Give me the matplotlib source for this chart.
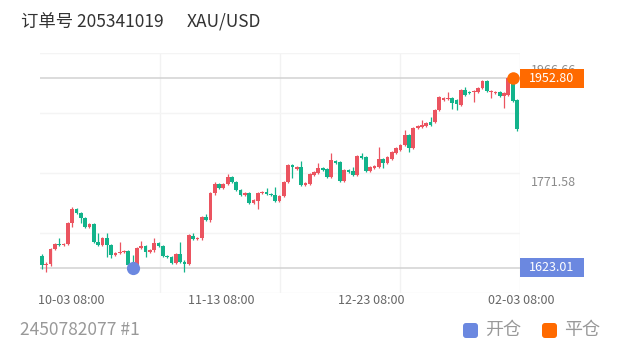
import numpy as np
import matplotlib
matplotlib.use('Agg')
import matplotlib.pyplot as plt
from matplotlib.patches import Rectangle, FancyBboxPatch
from matplotlib.transforms import blended_transform_factory

plt.rcParams['font.family'] = ['Noto Sans CJK SC', 'DejaVu Sans']

order_title = '订单号 205341019'
symbol = 'XAU/USD'
account = '2450782077 #1'
legend_names = ['开仓', '平仓']

# K线数据 (开, 收, 高, 低)
opens = [1643.8, 1628.2, 1630.0, 1656.0, 1664.7, 1662.9, 1664.7, 1701.1, 1725.4, 1718.5,
         1709.8, 1694.2, 1699.4, 1668.1, 1662.9, 1675.1, 1662.9, 1645.6, 1649.0, 1650.8,
         1652.5, 1628.2, 1626.5, 1657.7, 1661.2, 1650.8, 1654.3, 1666.4, 1661.2, 1643.8,
         1642.1, 1631.7, 1647.3, 1633.4, 1630.0, 1678.6, 1673.3, 1675.1, 1711.5, 1706.3,
         1753.2, 1768.8, 1761.9, 1768.8, 1781.0, 1772.3, 1758.4, 1749.7, 1753.2, 1735.8,
         1739.3, 1753.2, 1754.9, 1751.5, 1749.7, 1739.3, 1748.0, 1772.3, 1801.8, 1794.9,
         1798.3, 1767.1, 1768.8, 1784.4, 1787.9, 1796.6, 1794.9, 1781.0, 1808.7, 1807.0,
         1774.0, 1793.1, 1791.4, 1784.4, 1817.4, 1815.7, 1791.4, 1796.6, 1798.3, 1812.2,
         1805.3, 1812.2, 1822.6, 1827.8, 1836.5, 1853.9, 1831.3, 1866.0, 1867.8, 1869.5,
         1876.4, 1876.4, 1897.3, 1914.6, 1916.3, 1918.1, 1914.6, 1905.9, 1932.0, 1928.5,
         1928.5, 1928.5, 1935.4, 1947.6, 1928.5, 1926.8, 1928.5, 1921.6, 1923.3, 1944.1,
         1914.6]
closes = [1628.2, 1630.0, 1656.0, 1664.7, 1662.9, 1664.7, 1701.1, 1725.4, 1718.5, 1709.8,
          1694.2, 1699.4, 1668.1, 1662.9, 1675.1, 1662.9, 1645.6, 1649.0, 1650.8, 1652.5,
          1628.2, 1623.01, 1657.7, 1661.2, 1650.8, 1654.3, 1666.4, 1661.2, 1643.8, 1642.1,
          1631.7, 1647.3, 1633.4, 1630.0, 1680.3, 1673.3, 1675.1, 1711.5, 1706.3, 1753.2,
          1768.8, 1761.9, 1768.8, 1781.0, 1772.3, 1758.4, 1749.7, 1753.2, 1735.8, 1741.0,
          1753.2, 1754.9, 1751.5, 1749.7, 1739.3, 1748.0, 1772.3, 1801.8, 1798.3, 1798.3,
          1767.1, 1770.6, 1786.2, 1789.6, 1796.6, 1793.1, 1781.0, 1810.5, 1805.3, 1774.0,
          1793.1, 1789.6, 1784.4, 1817.4, 1813.9, 1791.4, 1798.3, 1800.1, 1812.2, 1805.3,
          1815.7, 1824.4, 1831.3, 1836.5, 1853.9, 1831.3, 1866.0, 1869.5, 1871.2, 1874.7,
          1871.2, 1897.3, 1919.8, 1918.1, 1918.1, 1909.4, 1907.7, 1932.0, 1923.3, 1926.8,
          1930.2, 1935.4, 1947.6, 1930.2, 1930.2, 1928.5, 1921.6, 1926.8, 1952.8, 1912.9,
          1864.3]
highs = [1647.3, 1633.4, 1657.7, 1666.4, 1675.1, 1666.4, 1702.9, 1728.9, 1727.2, 1720.2,
         1711.5, 1701.1, 1700.5, 1683.8, 1676.8, 1683.8, 1664.7, 1650.8, 1668.1, 1654.3,
         1654.3, 1645.6, 1659.5, 1669.9, 1662.9, 1656.0, 1675.1, 1668.1, 1662.9, 1645.6,
         1643.8, 1649.0, 1668.1, 1636.9, 1682.0, 1683.8, 1676.8, 1713.3, 1716.7, 1754.9,
         1772.3, 1770.6, 1770.6, 1786.2, 1782.7, 1774.0, 1760.1, 1754.9, 1754.9, 1742.8,
         1754.9, 1756.7, 1761.9, 1753.2, 1763.6, 1749.7, 1774.0, 1803.5, 1803.5, 1800.1,
         1808.7, 1772.3, 1787.9, 1791.4, 1805.3, 1798.3, 1796.6, 1822.6, 1810.5, 1808.7,
         1794.9, 1794.9, 1798.3, 1819.2, 1822.6, 1817.4, 1800.1, 1801.8, 1833.0, 1813.9,
         1817.4, 1826.1, 1833.0, 1838.2, 1862.5, 1855.6, 1867.8, 1871.2, 1879.9, 1876.4,
         1885.1, 1899.0, 1921.6, 1919.8, 1928.5, 1919.8, 1916.3, 1933.7, 1937.2, 1930.2,
         1932.0, 1937.2, 1949.3, 1949.3, 1932.0, 1930.2, 1930.2, 1928.5, 1954.5, 1952.8,
         1916.3]
lows = [1621.0, 1616.1, 1626.5, 1654.3, 1661.2, 1661.2, 1662.9, 1694.2, 1716.7, 1701.1,
        1692.4, 1692.4, 1666.4, 1661.2, 1661.2, 1642.1, 1640.4, 1643.8, 1647.3, 1649.0,
        1626.5, 1621.0, 1624.7, 1656.0, 1642.1, 1649.0, 1650.8, 1659.5, 1642.1, 1640.4,
        1630.0, 1630.0, 1631.7, 1616.1, 1628.2, 1671.6, 1671.6, 1671.6, 1704.6, 1702.9,
        1749.7, 1760.1, 1760.1, 1767.1, 1770.6, 1756.7, 1748.0, 1748.0, 1734.1, 1734.1,
        1725.4, 1751.5, 1749.7, 1748.0, 1737.6, 1737.6, 1746.3, 1770.6, 1779.2, 1793.1,
        1765.3, 1765.3, 1767.1, 1782.7, 1786.2, 1791.4, 1779.2, 1779.2, 1803.5, 1772.3,
        1772.3, 1787.9, 1782.7, 1782.7, 1812.2, 1789.6, 1789.6, 1794.9, 1796.6, 1796.6,
        1803.5, 1810.5, 1820.9, 1826.1, 1834.8, 1824.4, 1829.6, 1864.3, 1866.0, 1867.8,
        1869.5, 1874.7, 1895.5, 1912.9, 1914.6, 1899.0, 1897.3, 1904.2, 1921.6, 1925.0,
        1911.1, 1926.8, 1933.7, 1928.5, 1918.1, 1925.0, 1919.8, 1900.7, 1921.6, 1911.1,
        1860.8]

open_price = 1623.01
close_price = 1952.80
open_idx = 21
close_idx = 109

y_labels = [1771.58, 1966.66]
x_labels = ['10-03 08:00', '11-13 08:00', '12-23 08:00', '02-03 08:00']
x_label_pos = [6.7, 41.5, 76.2, 111.1]

up_color = '#eb5460'
down_color = '#12b38b'
open_color = '#6b88e0'
close_color = '#ff6a00'

W, H = 620, 350
fig = plt.figure(figsize=(W / 100, H / 100), dpi=100)
ax = fig.add_axes([40 / W, 57 / H, 480 / W, 240 / H])
xlim = (-0.46, 110.7)
ylim = (1579.6, 1996.2)
ax.set_xlim(*xlim)
ax.set_ylim(*ylim)
for s in ax.spines.values():
    s.set_visible(False)
ax.set_xticks([])
ax.set_yticks([])

# 网格
for gx in np.linspace(*xlim, 5)[1:]:
    ax.axvline(gx, color='#f2f2f2', lw=1, zorder=0)
for gy in np.linspace(*ylim, 5):
    ax.axhline(gy, color='#f4f4f4', lw=1, zorder=0)

# 开仓/平仓价格线
ax.axhline(open_price, color='#d5d5d5', lw=1.2, zorder=1)
ax.axhline(close_price, color='#d5d5d5', lw=1.2, zorder=1)

# K线
x = np.arange(len(opens))
for i in x:
    o, c, h, l = opens[i], closes[i], highs[i], lows[i]
    col = up_color if c >= o else down_color
    ax.vlines(i, l, h, color=col, lw=0.9, zorder=2)
    body = max(abs(c - o), 1.8)
    ax.bar(i, body, bottom=min(o, c), width=0.86, color=col, lw=0, zorder=3)

# 标记点
ax.plot(open_idx, open_price, 'o', ms=9.5, color=open_color, mec='none', zorder=5, clip_on=False)
ax.plot(close_idx, close_price, 'o', ms=9, color=close_color, mec='none', zorder=5, clip_on=False)

trans = blended_transform_factory(ax.transAxes, ax.transData)
# y 轴标签
for v in y_labels:
    ax.text(1 + 11 / 480, v, f'{v:.2f}', transform=trans, ha='left', va='center',
            fontsize=9, color='#8a8a8a', zorder=4, clip_on=False)

# 价格标签框
bw = 64 / 480
bh = 19 * (ylim[1] - ylim[0]) / 240
for price, col in [(close_price, close_color), (open_price, open_color)]:
    ax.add_patch(Rectangle((1.0, price - bh / 2), bw, bh, transform=trans, color=col,
                           lw=0, zorder=6, clip_on=False))
    ax.text(1 + bw / 2, price, f'{price:.2f}', transform=trans, ha='center', va='center',
            fontsize=9, color='white', zorder=7, clip_on=False)

# x 轴标签
transx = blended_transform_factory(ax.transData, ax.transAxes)
for pos, lab in zip(x_label_pos, x_labels):
    ax.text(pos, -8 / 240, lab, transform=transx, ha='center', va='center',
            fontsize=9, color='#666666', clip_on=False)

# 标题和底部
fig.text(21 / W, 1 - 22 / H, order_title, fontsize=12.5, color='#333333', va='center')
fig.text(187 / W, 1 - 22 / H, symbol, fontsize=12.5, color='#333333', va='center')
fig.text(20 / W, 1 - 330 / H, account, fontsize=12.5, color='#999999', va='center')

for (px, name, col) in [(463, legend_names[0], open_color), (542, legend_names[1], close_color)]:
    fig.patches.append(FancyBboxPatch((px / 100, 12 / 100), 0.15, 0.15,
                                      boxstyle='round,pad=0,rounding_size=0.03',
                                      transform=fig.dpi_scale_trans, color=col, lw=0))
    fig.text((px + 22) / W, 1 - 330 / H, name, fontsize=13, color='#999999', va='center')

fig.savefig('out.png', dpi=100, facecolor='white')
